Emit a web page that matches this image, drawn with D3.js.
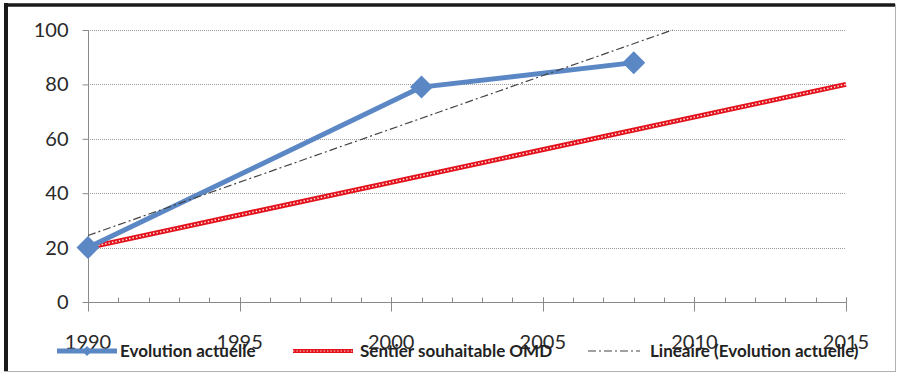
<!DOCTYPE html>
<html>
<head>
<meta charset="utf-8">
<script src="https://cdn.jsdelivr.net/npm/d3@7"></script>
<style>
  html, body { margin: 0; padding: 0; background: #fff; }
  svg { display: block; }
</style>
</head>
<body>
<svg id="chart" width="898" height="374"></svg>
<script>
// Observed series: "Evolution actuelle"
const actualYears = [1990, 2001, 2008];
const actualValues = [20, 79, 88];

// Target path (OMD): straight path from 1990 to 2015
const targetYears = [1990, 2015];
const targetValues = [20, 80];

const yTicks = [0, 20, 40, 60, 80, 100];
const xMajorTicks = [1990, 1995, 2000, 2005, 2010, 2015];

const legendLabels = ["Evolution actuelle", "Sentier souhaitable OMD", "Lineaire (Evolution actuelle)"];

const svg = d3.select("#chart");
const W = 898, H = 374;

// Frame: dark top/left edges, light bottom/right edges
svg.append("rect").attr("x", 0).attr("y", 0).attr("width", W).attr("height", H).attr("fill", "#fff");
svg.append("line").attr("x1", 6).attr("x2", 6).attr("y1", 3).attr("y2", 372)
  .attr("stroke", "#1a1a1a").attr("stroke-width", 4);
svg.append("line").attr("x1", 4).attr("x2", 895).attr("y1", 5).attr("y2", 5)
  .attr("stroke", "#1a1a1a").attr("stroke-width", 3.5);
svg.append("line").attr("x1", 895.5).attr("x2", 895.5).attr("y1", 4).attr("y2", 372)
  .attr("stroke", "#b0b0b0").attr("stroke-width", 1);
svg.append("line").attr("x1", 4).attr("x2", 896).attr("y1", 371.5).attr("y2", 371.5)
  .attr("stroke", "#b0b0b0").attr("stroke-width", 1);

const x = d3.scaleLinear().domain([1990, 2015]).range([88, 846]);
const y = d3.scaleLinear().domain([0, 100]).range([302, 30]);

const tickFont = "Lato, 'Open Sans', sans-serif";

// Horizontal dotted gridlines
svg.append("g").selectAll("line").data(yTicks.filter(d => d > 0)).join("line")
  .attr("x1", x(1990)).attr("x2", x(2015))
  .attr("y1", d => Math.round(y(d)) + 0.5).attr("y2", d => Math.round(y(d)) + 0.5)
  .attr("stroke", "#9a9a9a").attr("stroke-width", 1).attr("stroke-dasharray", "1,1");

// Y axis
const yAxis = d3.axisLeft(y).tickValues(yTicks).tickSize(6).tickPadding(14).tickFormat(d3.format("d"));
const gy = svg.append("g").attr("transform", `translate(${x(1990) + 0.5},0)`).call(yAxis);
gy.select(".domain").attr("stroke", "#8a8a8a").attr("d", `M0,${y(100)}V${y(0) + 8}`);
gy.selectAll(".tick line").attr("stroke", "#8a8a8a");
gy.selectAll(".tick text").attr("fill", "#2a2a2a").style("font-family", tickFont).style("font-size", "20px");

// X axis: minor yearly ticks inside, major ticks crossing the axis
const gx = svg.append("g").attr("transform", `translate(0,${y(0) + 0.5})`);
gx.append("line").attr("x1", x(1990)).attr("x2", x(2015)).attr("stroke", "#8a8a8a");
gx.selectAll("line.minor").data(d3.range(1990, 2016)).join("line").attr("class", "minor")
  .attr("x1", d => Math.round(x(d)) + 0.5).attr("x2", d => Math.round(x(d)) + 0.5)
  .attr("y1", -5).attr("y2", 0).attr("stroke", "#8a8a8a");
gx.selectAll("line.major").data(xMajorTicks).join("line").attr("class", "major")
  .attr("x1", d => Math.round(x(d)) + 0.5).attr("x2", d => Math.round(x(d)) + 0.5)
  .attr("y1", -5).attr("y2", 9).attr("stroke", "#8a8a8a");
gx.selectAll("text").data(xMajorTicks).join("text")
  .attr("x", d => x(d)).attr("y", 46).attr("text-anchor", "middle")
  .attr("fill", "#2a2a2a").style("font-family", tickFont).style("font-size", "20px")
  .text(d => d);

// Target path: red line with dotted light core
const targetData = targetYears.map((t, i) => [t, targetValues[i]]);
const line = d3.line().x(d => x(d[0])).y(d => y(d[1]));
svg.append("path").attr("d", line(targetData)).attr("fill", "none")
  .attr("stroke", "#e3121c").attr("stroke-width", 5);
svg.append("path").attr("d", line(targetData)).attr("fill", "none")
  .attr("stroke", "#ffe4e4").attr("stroke-width", 1.5).attr("stroke-dasharray", "1.5,2");

// Least-squares trend of the observed series, stopped at the top of the plot
const mx = d3.mean(actualYears), my = d3.mean(actualValues);
const slope = d3.sum(actualYears, (t, i) => (t - mx) * (actualValues[i] - my)) /
              d3.sum(actualYears, t => (t - mx) * (t - mx));
const intercept = my - slope * mx;
const tEnd = Math.min(2015, (100 - intercept) / slope);
const trendData = [[1990, intercept + slope * 1990], [tEnd, intercept + slope * tEnd]];

// Observed series line and diamond markers
const actualData = actualYears.map((t, i) => [t, actualValues[i]]);
svg.append("path").attr("d", line(actualData)).attr("fill", "none")
  .attr("stroke", "#5b87c5").attr("stroke-width", 5).attr("stroke-linejoin", "round");
const diamond = r => `M0,${-r}L${r},0L0,${r}L${-r},0Z`;
svg.append("g").selectAll("path").data(actualData).join("path")
  .attr("transform", d => `translate(${x(d[0])},${y(d[1])})`)
  .attr("d", diamond(11.5)).attr("fill", "#5b87c5");

svg.append("path").attr("d", line(trendData)).attr("fill", "none")
  .attr("stroke", "#444").attr("stroke-width", 1.2).attr("stroke-dasharray", "8,3,2,3");

// Legend
const legY = 351;
const legFont = "Lato, 'Open Sans', sans-serif";
const leg = svg.append("g");
// entry 1
leg.append("line").attr("x1", 57).attr("x2", 117).attr("y1", legY).attr("y2", legY)
  .attr("stroke", "#5b87c5").attr("stroke-width", 5);
leg.append("path").attr("transform", `translate(87,${legY})`).attr("d", diamond(5)).attr("fill", "#5b87c5");
// entry 2
leg.append("line").attr("x1", 293).attr("x2", 353).attr("y1", legY).attr("y2", legY)
  .attr("stroke", "#e3121c").attr("stroke-width", 4);
leg.append("line").attr("x1", 293).attr("x2", 353).attr("y1", legY).attr("y2", legY)
  .attr("stroke", "#ffe4e4").attr("stroke-width", 1.2).attr("stroke-dasharray", "1.4,2");
// entry 3
leg.append("line").attr("x1", 588).attr("x2", 640).attr("y1", legY).attr("y2", legY)
  .attr("stroke", "#444").attr("stroke-width", 1.2).attr("stroke-dasharray", "8,3,2,3");

const legX = [120, 360, 650];
leg.selectAll("text").data(legendLabels).join("text")
  .attr("x", (d, i) => legX[i]).attr("y", legY + 6)
  .attr("fill", "#222").style("font-family", legFont).style("font-size", "17px").style("font-weight", "bold")
  .text(d => d);
</script>
</body>
</html>
